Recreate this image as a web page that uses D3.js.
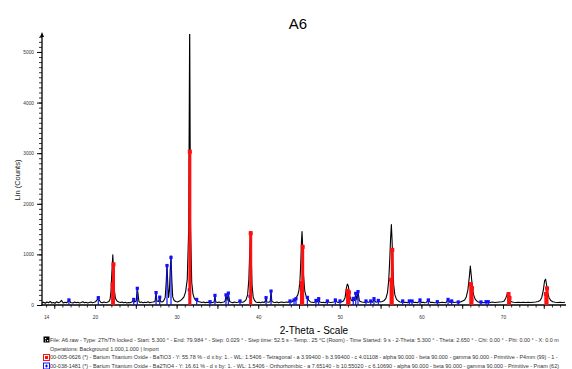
<!DOCTYPE html>
<html><head><meta charset="utf-8">
<script src="https://cdn.jsdelivr.net/npm/d3@7/dist/d3.min.js"></script>
<style>body{margin:0;background:#fff}svg{display:block;font-family:"Liberation Sans",Arial,sans-serif}</style>
</head><body><svg id="c" width="572" height="369"></svg>
<script>
const title = "A6";
const xLabel = "2-Theta - Scale";
const yLabel = "Lin (Counts)";
const xTickLabels = [14, 20, 30, 40, 50, 60, 70];
const yTickLabels = [0, 1000, 2000, 3000, 4000, 5000];

// measured scan: [2-theta, counts]
const scan = [
[13.5,40],[13.7,55],[13.9,35],[14.1,60],[14.3,45],[14.5,70],[14.7,40],[14.9,50],[15.1,35],[15.3,65],[15.5,45],[15.7,55],[15.9,90],[16.1,40],[16.3,55],[16.5,45],[16.7,70],[16.85,100],[17.0,50],[17.3,40],[17.5,60],[17.7,45],[17.9,55],[18.1,40],[18.3,50],[18.5,65],[18.7,45],[18.9,55],[19.1,40],[19.3,50],[19.5,60],[19.7,45],[19.9,55],[20.1,70],[20.3,110],[20.4,160],[20.5,100],[20.7,55],[20.9,45],[21.1,60],[21.3,50],[21.5,55],[21.7,70],[21.85,120],[21.95,260],[22.05,600],[22.18,990],[22.28,620],[22.38,280],[22.5,130],[22.7,80],[22.9,60],[23.1,50],[23.3,60],[23.5,45],[23.7,55],[23.9,40],[24.1,50],[24.3,45],[24.5,60],[24.65,80],[24.75,110],[24.85,60],[25.05,80],[25.18,340],[25.28,200],[25.38,70],[25.5,50],[25.7,60],[25.9,45],[26.1,55],[26.3,50],[26.5,65],[26.7,45],[26.9,55],[27.1,60],[27.35,70],[27.48,240],[27.58,80],[27.8,70],[27.93,160],[28.03,70],[28.2,60],[28.4,80],[28.6,150],[28.72,450],[28.82,800],[28.92,400],[29.02,150],[29.12,300],[29.22,700],[29.31,970],[29.41,500],[29.52,160],[29.7,90],[29.9,70],[30.1,60],[30.3,75],[30.5,90],[30.7,120],[30.9,160],[31.1,260],[31.3,500],[31.48,1500],[31.6,5600],[31.7,1600],[31.85,450],[32.0,220],[32.15,140],[32.3,100],[32.46,120],[32.6,70],[32.9,60],[33.1,50],[33.3,60],[33.5,45],[33.7,55],[33.9,50],[34.09,70],[34.3,45],[34.6,60],[34.7,190],[34.8,60],[35.0,50],[35.2,60],[35.4,45],[35.6,55],[35.8,60],[35.95,80],[36.05,190],[36.18,90],[36.34,230],[36.5,70],[36.7,55],[36.9,45],[37.1,60],[37.3,50],[37.5,55],[37.77,75],[37.9,60],[38.1,55],[38.3,70],[38.5,100],[38.7,200],[38.85,500],[38.97,1100],[39.06,1450],[39.14,1000],[39.24,400],[39.38,160],[39.55,90],[39.7,60],[39.9,50],[40.1,55],[40.3,45],[40.5,60],[40.7,50],[40.85,70],[40.96,140],[41.06,60],[41.3,55],[41.47,70],[41.57,270],[41.67,70],[41.9,55],[42.1,50],[42.3,60],[42.5,45],[42.7,55],[42.9,60],[43.1,50],[43.3,55],[43.5,60],[43.7,55],[43.9,80],[44.1,60],[44.39,100],[44.5,95],[44.63,140],[44.85,200],[45.0,300],[45.12,500],[45.22,850],[45.3,1250],[45.37,1450],[45.45,1150],[45.55,600],[45.7,280],[45.88,170],[46.02,150],[46.2,90],[46.4,60],[46.6,55],[46.8,50],[46.98,60],[47.08,90],[47.2,55],[47.41,120],[47.55,60],[47.8,50],[48.0,55],[48.2,45],[48.35,60],[48.47,80],[48.7,55],[48.9,50],[49.1,55],[49.3,60],[49.45,90],[49.7,55],[49.9,50],[50.02,80],[50.2,60],[50.45,80],[50.65,150],[50.8,330],[50.92,415],[51.04,380],[51.18,200],[51.38,100],[51.55,80],[51.65,130],[51.8,90],[51.95,220],[52.1,100],[52.23,260],[52.4,80],[52.7,60],[52.9,55],[53.08,50],[53.21,70],[53.5,55],[53.79,75],[54.0,55],[54.19,110],[54.4,60],[54.55,55],[54.72,85],[54.95,60],[55.2,70],[55.45,90],[55.65,130],[55.85,250],[56.0,500],[56.12,900],[56.22,1300],[56.32,1590],[56.4,1300],[56.5,800],[56.6,400],[56.75,200],[56.95,110],[57.2,75],[57.4,60],[57.55,55],[57.71,75],[57.9,50],[58.1,55],[58.3,45],[58.52,70],[58.85,75],[59.1,50],[59.3,55],[59.5,45],[59.83,80],[60.0,50],[60.2,55],[60.4,45],[60.6,50],[60.85,90],[61.1,50],[61.3,55],[61.6,45],[61.8,50],[61.95,60],[62.2,45],[62.5,55],[62.8,50],[63.0,45],[63.27,95],[63.5,50],[63.71,70],[64.0,50],[64.2,55],[64.52,60],[64.8,60],[65.05,80],[65.3,100],[65.5,160],[65.7,300],[65.87,550],[66.0,770],[66.1,600],[66.25,350],[66.4,200],[66.6,110],[66.85,70],[67.05,55],[67.3,60],[67.6,45],[67.92,55],[68.2,55],[68.45,50],[68.7,60],[69.0,50],[69.3,55],[69.6,60],[69.9,65],[70.15,80],[70.35,140],[70.55,230],[70.7,150],[70.85,90],[71.05,65],[71.3,55],[71.6,50],[71.9,55],[72.2,50],[72.5,55],[72.8,50],[73.1,55],[73.4,50],[73.7,55],[74.0,60],[74.3,70],[74.55,90],[74.75,150],[74.95,300],[75.1,480],[75.22,510],[75.32,420],[75.48,250],[75.63,150],[75.85,90],[76.1,65],[76.4,55],[76.7,50],[77.0,55],[77.3,50],[77.6,55]
];

// 00-005-0626 BaTiO3 reference sticks: [2-theta, counts]
const batio3 = [[22.15,410],[22.26,805],[31.62,3030],[39.08,1420],[45.3,435],[45.45,1150],[50.95,280],[51.12,250],[56.28,500],[56.43,1090],[66.05,415],[66.2,335],[70.68,217],[70.8,140],[75.25,217],[75.4,330]];

// 00-038-1481 Ba2TiO4 reference sticks: [2-theta, counts]
const ba2tio4 = [[16.8,100],[20.4,145],[24.74,110],[25.18,330],[27.48,245],[27.93,155],[28.82,780],[29.31,940],[31.56,300],[32.46,110],[34.09,65],[34.7,190],[36.05,200],[36.34,235],[37.77,80],[39.0,170],[40.96,145],[41.57,275],[43.9,80],[44.39,100],[44.63,125],[46.02,150],[47.08,90],[47.41,125],[48.47,80],[49.45,100],[50.02,80],[51.0,200],[51.65,130],[51.95,230],[52.23,265],[53.21,80],[53.79,80],[54.19,125],[54.72,90],[57.71,80],[58.52,80],[58.85,80],[59.83,100],[60.85,100],[61.95,65],[63.27,110],[63.71,80],[64.52,60],[66.16,100],[67.3,60],[67.92,65],[68.2,65]];

const legendText = [
 "File: A6.raw - Type: 2Th/Th locked - Start: 5.300 ° - End: 79.984 ° - Step: 0.029 ° - Step time: 52.5 s - Temp.: 25 °C (Room) - Time Started: 9 s - 2-Theta: 5.300 ° - Theta: 2.650 ° - Chi: 0.00 ° - Phi: 0.00 ° - X: 0.0 m",
 "Operations: Background 1.000,1.000 | Import",
 "00-005-0626 (*) - Barium Titanium Oxide - BaTiO3 - Y: 55.78 % - d x by: 1. - WL: 1.5406 - Tetragonal - a 3.99400 - b 3.99400 - c 4.01108 - alpha 90.000 - beta 90.000 - gamma 90.000 - Primitive - P4mm (99) - 1 -",
 "00-038-1481 (*) - Barium Titanium Oxide - Ba2TiO4 - Y: 16.61 % - d x by: 1. - WL: 1.5406 - Orthorhombic - a 7.65140 - b 10.55020 - c 6.10690 - alpha 90.000 - beta 90.000 - gamma 90.000 - Primitive - Pnam (62)"
];

const svg = d3.select("#c");
const x = d3.scaleLinear().domain([13.5, 77.6]).range([42, 565]);
const y = d3.scaleLinear().domain([0, 5355]).range([305, 34]);

svg.append("defs").append("clipPath").attr("id","plot").append("rect")
  .attr("x", 42).attr("y", 34).attr("width", 530).attr("height", 272);

// title
svg.append("text").attr("x", 298).attr("y", 29).attr("text-anchor","middle")
  .attr("font-size", 15).attr("fill","#000").text(title);

// y axis label
svg.append("text").attr("transform","translate(20,180) rotate(-90)").attr("text-anchor","middle")
  .attr("font-size", 7.5).attr("fill","#222").text(yLabel);
// x axis label
svg.append("text").attr("x", 314).attr("y", 334).attr("text-anchor","middle")
  .attr("font-size", 10).attr("fill","#000").text(xLabel);

// y minor ticks
svg.append("g").attr("transform","translate(42,0)")
  .call(d3.axisLeft(y).tickValues(d3.range(0, 5355, 100)).tickSize(3).tickFormat(""))
  .call(g => g.select(".domain").remove())
  .call(g => g.selectAll("line").attr("stroke","#000").attr("stroke-width",0.8));
// y major ticks
svg.append("g").attr("transform","translate(42,0)")
  .call(d3.axisLeft(y).tickValues(yTickLabels).tickSize(5).tickPadding(3).tickFormat(d3.format("d")))
  .call(g => g.select(".domain").remove())
  .call(g => g.selectAll("line").attr("stroke","#000").attr("stroke-width",1))
  .call(g => g.selectAll("text").attr("font-size", 4.8).attr("fill","#333").attr("font-family","Liberation Sans, Arial"));

// x minor ticks
svg.append("g").attr("transform","translate(0,305)")
  .call(d3.axisBottom(x).tickValues(d3.range(14, 78, 1)).tickSize(2.5).tickFormat(""))
  .call(g => g.select(".domain").remove())
  .call(g => g.selectAll("line").attr("stroke","#000").attr("stroke-width",0.8));
svg.append("g").attr("transform","translate(0,305)")
  .call(d3.axisBottom(x).tickValues(d3.range(15, 78, 5)).tickSize(4).tickFormat(""))
  .call(g => g.select(".domain").remove())
  .call(g => g.selectAll("line").attr("stroke","#000").attr("stroke-width",0.8));
// x labels
svg.append("g").attr("transform","translate(0,305)")
  .call(d3.axisBottom(x).tickValues(xTickLabels).tickSize(0).tickPadding(11).tickFormat(d3.format("d")))
  .call(g => g.select(".domain").remove())
  .call(g => g.selectAll("text").attr("font-size", 4.8).attr("fill","#333").attr("font-family","Liberation Sans, Arial"));

// axis lines
svg.append("line").attr("x1",42).attr("x2",42).attr("y1",36).attr("y2",305.5).attr("stroke","#000").attr("stroke-width",1.3);
svg.append("path").attr("d","M42,32 L40,37 L44,37 Z").attr("fill","#000");
svg.append("line").attr("x1",41.5).attr("x2",566).attr("y1",305).attr("y2",305).attr("stroke","#000").attr("stroke-width",1.3);

const plot = svg.append("g").attr("clip-path","url(#plot)");

// scan trace
plot.append("path").datum(scan)
  .attr("d", d3.line().x(d => x(d[0])).y(d => y(d[1])))
  .attr("fill","none").attr("stroke","#000").attr("stroke-width",1.1).attr("stroke-linejoin","round");

// Ba2TiO4 sticks
const blue = "#1010ff";
plot.append("g").selectAll("line").data(ba2tio4).join("line")
  .attr("x1", d => x(d[0])).attr("x2", d => x(d[0]))
  .attr("y1", y(0)).attr("y2", d => y(d[1]))
  .attr("stroke", blue).attr("stroke-width", 1.2);
plot.append("g").selectAll("rect").data(ba2tio4).join("rect")
  .attr("x", d => x(d[0]) - 1.6).attr("y", d => y(d[1]) - 1.6)
  .attr("width", 3.2).attr("height", 3.2).attr("fill", blue);

// BaTiO3 sticks
const red = "#ff1010";
plot.append("g").selectAll("rect").data(batio3).join("rect")
  .attr("x", d => x(d[0]) - 1.5).attr("y", d => y(d[1]))
  .attr("width", 3).attr("height", d => y(0) - y(d[1])).attr("fill", red);
plot.append("g").selectAll("rect").data(batio3).join("rect")
  .attr("x", d => x(d[0]) - 2).attr("y", d => y(d[1]) - 2)
  .attr("width", 4).attr("height", 4).attr("fill", red);

// legend / info lines
const ly = [340, 349, 357.5, 366];
const lg = svg.append("g");
lg.selectAll("text").data(legendText).join("text")
  .attr("x", 50).attr("y", (d,i) => ly[i] + 1.9)
  .attr("font-size", 5.45).attr("fill","#333").text(d => d);

// icons
lg.append("rect").attr("x",43.5).attr("y",336.5).attr("width",6).attr("height",6).attr("fill","#000");
lg.append("path").attr("d","M45,338 h1.2 v1.2 h-1.2 Z M47,340 h1.2 v1.2 h-1.2 Z M45,340.5 h1 v1 h-1 Z").attr("fill","#fff");
lg.append("rect").attr("x",43.5).attr("y",354.5).attr("width",6).attr("height",6).attr("fill","#fff").attr("stroke",red).attr("stroke-width",1);
lg.append("rect").attr("x",45).attr("y",356).attr("width",3).attr("height",3).attr("fill",red);
lg.append("rect").attr("x",43.5).attr("y",363).attr("width",6).attr("height",6).attr("fill","#fff").attr("stroke",blue).attr("stroke-width",1);
lg.append("path").attr("d","M46.5,364.5 v3 M45,366 h3").attr("stroke",blue).attr("stroke-width",1.2);
</script></body></html>
